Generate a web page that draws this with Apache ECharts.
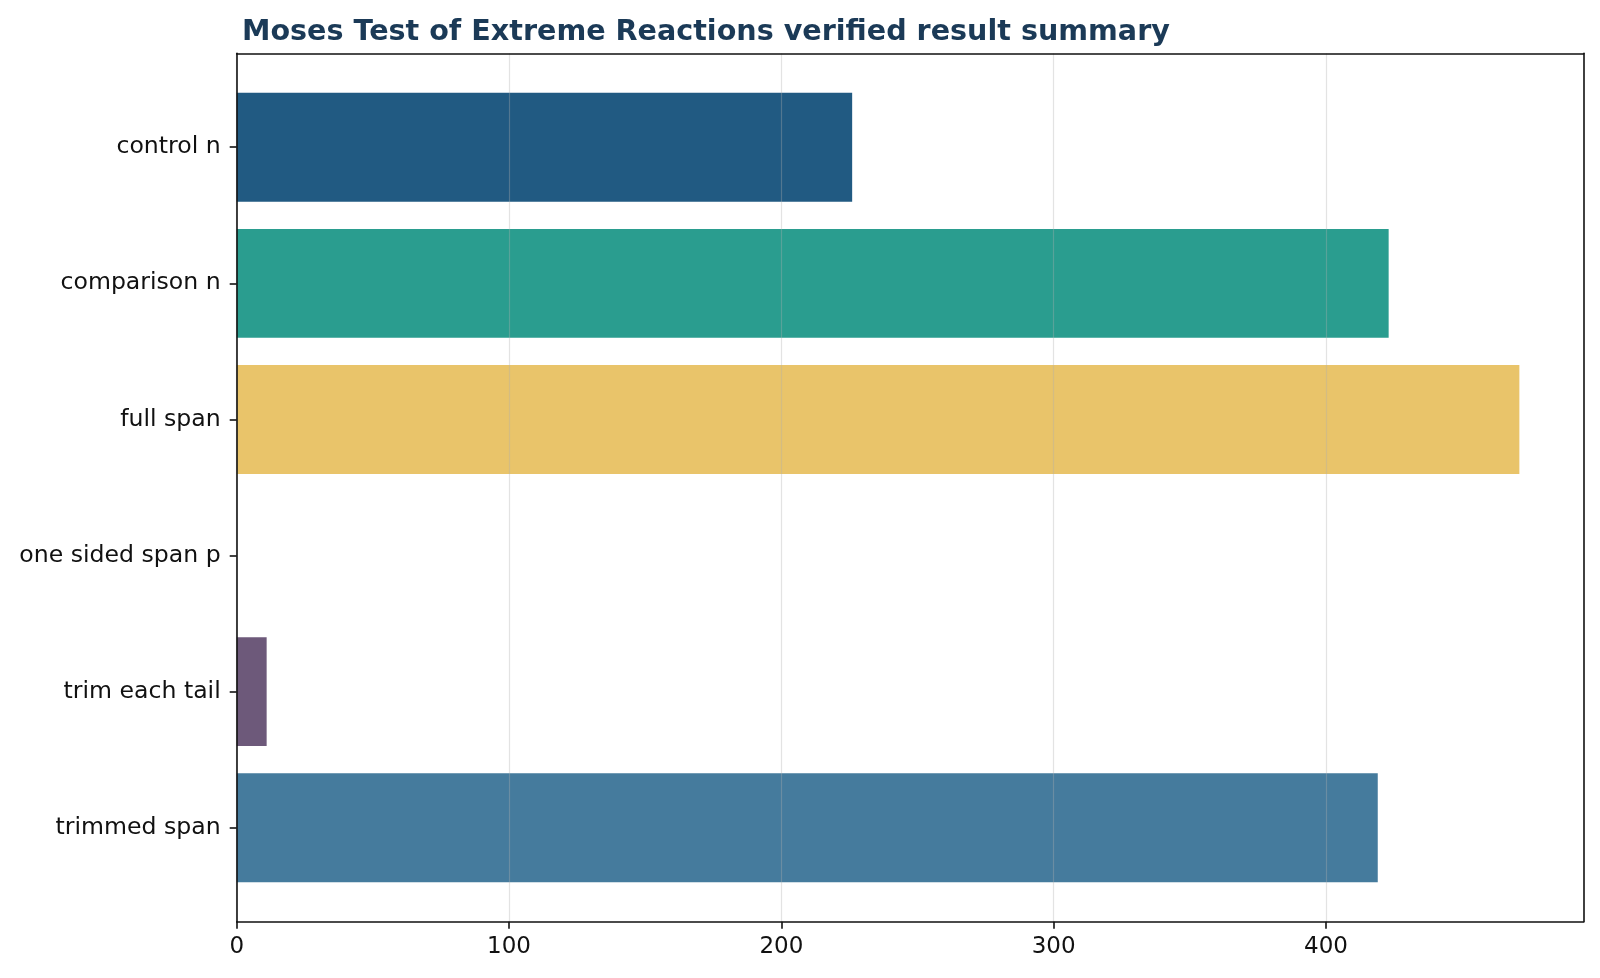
<!DOCTYPE html>
<html>
<head>
<meta charset="UTF-8">
<title>Moses Test of Extreme Reactions</title>
<script src="https://cdn.jsdelivr.net/npm/echarts@6/dist/echarts.min.js"></script>
<style>
  * { margin: 0; padding: 0; }
  body { background: #fff; }
  #app { width: 1600px; height: 978px; }
</style>
</head>
<body>
<div id="app"></div>
<script>
// data
var categories = ['control n', 'comparison n', 'full span', 'one sided span p', 'trim each tail', 'trimmed span'];
var values = [226, 423, 471, 0.0, 11, 419];
var barColors = ['#215a82', '#2a9d8f', '#e9c46a', '#e76f51', '#6d597a', '#457b9d'];
var xTicks = [0, 100, 200, 300, 400];

// layout (frame of the plot, px)
var L = 236.7, R = 16.5, T = 53.3, B = 56.3;
var n = categories.length;
var plotH = 978 - T - B;
var unit = plotH / ((n - 0.2) * 1.1);
var pad = 0.19 * unit;
var xMax = Math.max.apply(null, values) * 1.05;

var font = 'DejaVu Sans';
var ink = '#111';
var spine = { color: ink, width: 1.6 };

var myChart = echarts.init(document.getElementById('app'));

var option = {
  backgroundColor: '#fff',
  animation: false,
  title: {
    text: 'Moses Test of Extreme Reactions verified result summary',
    left: 237,
    top: 13,
    textStyle: { fontFamily: font, fontSize: 28.6, fontWeight: 'bold', color: '#1b3a57' }
  },
  grid: [
    { left: L, right: R, top: T, bottom: B },
    { left: L, right: R, top: T + pad, bottom: B + pad }
  ],
  xAxis: [
    {
      gridIndex: 0, type: 'value', min: 0, max: xMax, position: 'bottom', z: 3,
      axisLine: { show: true, onZero: false, lineStyle: spine },
      axisTick: { show: true, length: 7, customValues: xTicks, lineStyle: spine },
      axisLabel: { customValues: xTicks, fontFamily: font, fontSize: 23, color: '#111', margin: 14 },
      splitLine: { show: true, lineStyle: { color: 'rgba(176,176,176,0.35)', width: 1.2 } }
    },
    {
      gridIndex: 0, type: 'value', min: 0, max: xMax, position: 'top', z: 3,
      axisLine: { show: true, onZero: false, lineStyle: spine },
      axisTick: { show: false }, axisLabel: { show: false }, splitLine: { show: false }
    },
    { gridIndex: 1, type: 'value', min: 0, max: xMax, show: false }
  ],
  yAxis: [
    {
      gridIndex: 0, type: 'value', min: 0, max: 1, position: 'left', z: 3,
      axisLine: { show: true, onZero: false, lineStyle: spine },
      axisTick: { show: false }, axisLabel: { show: false }, splitLine: { show: false }
    },
    {
      gridIndex: 0, type: 'value', min: 0, max: 1, position: 'right', z: 3,
      axisLine: { show: true, onZero: false, lineStyle: spine },
      axisTick: { show: false }, axisLabel: { show: false }, splitLine: { show: false }
    },
    {
      gridIndex: 1, type: 'category', data: categories, inverse: true, z: 3,
      axisLine: { show: false },
      axisTick: { show: true, alignWithLabel: true, length: 7, lineStyle: spine },
      axisLabel: { fontFamily: font, fontSize: 23.6, color: '#111', margin: 16, padding: [4, 0, 0, 0] },
      splitLine: { show: false }
    }
  ],
  series: [{
    type: 'bar',
    xAxisIndex: 2,
    yAxisIndex: 2,
    barWidth: 0.8 * unit,
    data: values.map(function (v, i) {
      return { value: v, itemStyle: { color: barColors[i] } };
    })
  }]
};

myChart.setOption(option);
</script>
</body>
</html>
